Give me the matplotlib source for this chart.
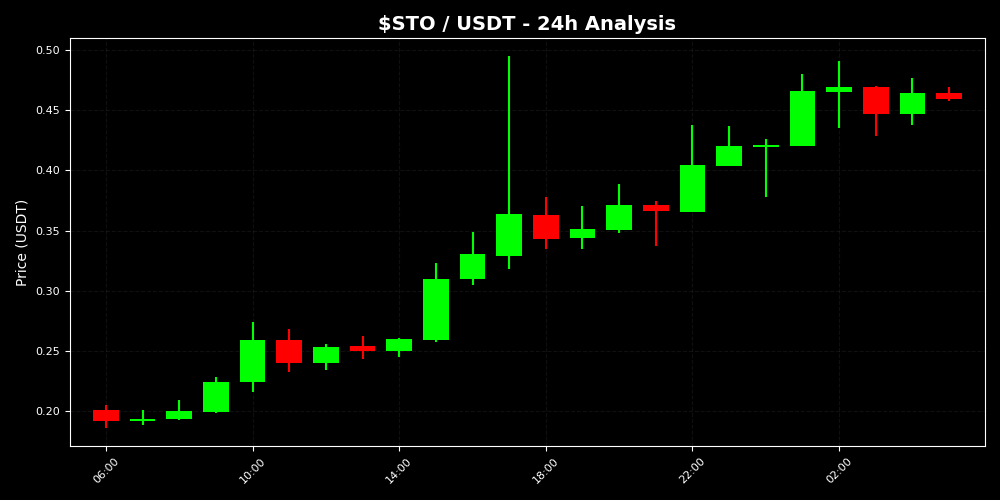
import numpy as np
import pandas as pd
import matplotlib
matplotlib.use("Agg")
import matplotlib.pyplot as plt
import matplotlib.dates as mdates

# hourly candles, 06:00 -> 05:00 next day
start_time = "2024-01-01 06:00"
opens = [0.201, 0.192, 0.193, 0.1995, 0.224, 0.259, 0.240, 0.254,
         0.250, 0.259, 0.310, 0.329, 0.363, 0.344, 0.3505, 0.371,
         0.3655, 0.4035, 0.4195, 0.420, 0.4655, 0.469, 0.447, 0.4643]
closes = [0.192, 0.193, 0.200, 0.2245, 0.259, 0.240, 0.253, 0.250,
          0.260, 0.310, 0.3305, 0.364, 0.343, 0.351, 0.3715, 0.366,
          0.4045, 0.420, 0.4205, 0.466, 0.469, 0.447, 0.4645, 0.4597]
highs = [0.205, 0.2008, 0.209, 0.228, 0.274, 0.268, 0.2557, 0.2623,
         0.2607, 0.3227, 0.3485, 0.495, 0.3776, 0.3704, 0.3886, 0.3745,
         0.4377, 0.4369, 0.426, 0.480, 0.4909, 0.470, 0.4767, 0.4693]
lows = [0.186, 0.1884, 0.1928, 0.1986, 0.216, 0.2327, 0.234, 0.2432,
        0.245, 0.2576, 0.3047, 0.3178, 0.3346, 0.3346, 0.348, 0.3371,
        0.3654, 0.4036, 0.378, 0.4202, 0.4354, 0.4288, 0.438, 0.4579]

times = pd.date_range(start_time, periods=len(opens), freq="h")
x = mdates.date2num(times)

plt.style.use("dark_background")
fig, ax = plt.subplots(figsize=(10, 5), dpi=100)
fig.subplots_adjust(left=0.07, right=0.985, top=0.924, bottom=0.108)

width = 0.7 / 24
for xi, o, c, h, l in zip(x, opens, closes, highs, lows):
    color = "#00ff00" if c >= o else "#ff0000"
    ax.vlines(xi, l, h, color=color, linewidth=1.5, zorder=2)
    body = max(abs(c - o), 0.0012)
    ax.bar(xi, body, width=width, bottom=min(o, c), color=color,
           edgecolor=color, linewidth=0, zorder=3)

hour = 1 / 24
ax.set_xlim(x[0] - 0.98 * hour, x[-1] + 0.98 * hour)
ax.set_ylim(0.1709, 0.5100)

ax.xaxis.set_major_locator(mdates.HourLocator(byhour=[2, 6, 10, 14, 18, 22]))
ax.xaxis.set_major_formatter(mdates.DateFormatter("%H:%M"))
plt.setp(ax.get_xticklabels(), rotation=45, fontsize=8)
ax.tick_params(axis="y", labelsize=8)

ax.grid(True, color="gray", linestyle="--", linewidth=0.8, alpha=0.12)
ax.set_axisbelow(True)

ax.set_title("$STO / USDT - 24h Analysis", fontsize=14, fontweight="bold")
ax.set_ylabel("Price (USDT)", fontsize=10)

fig.savefig("out.png", facecolor="black")
